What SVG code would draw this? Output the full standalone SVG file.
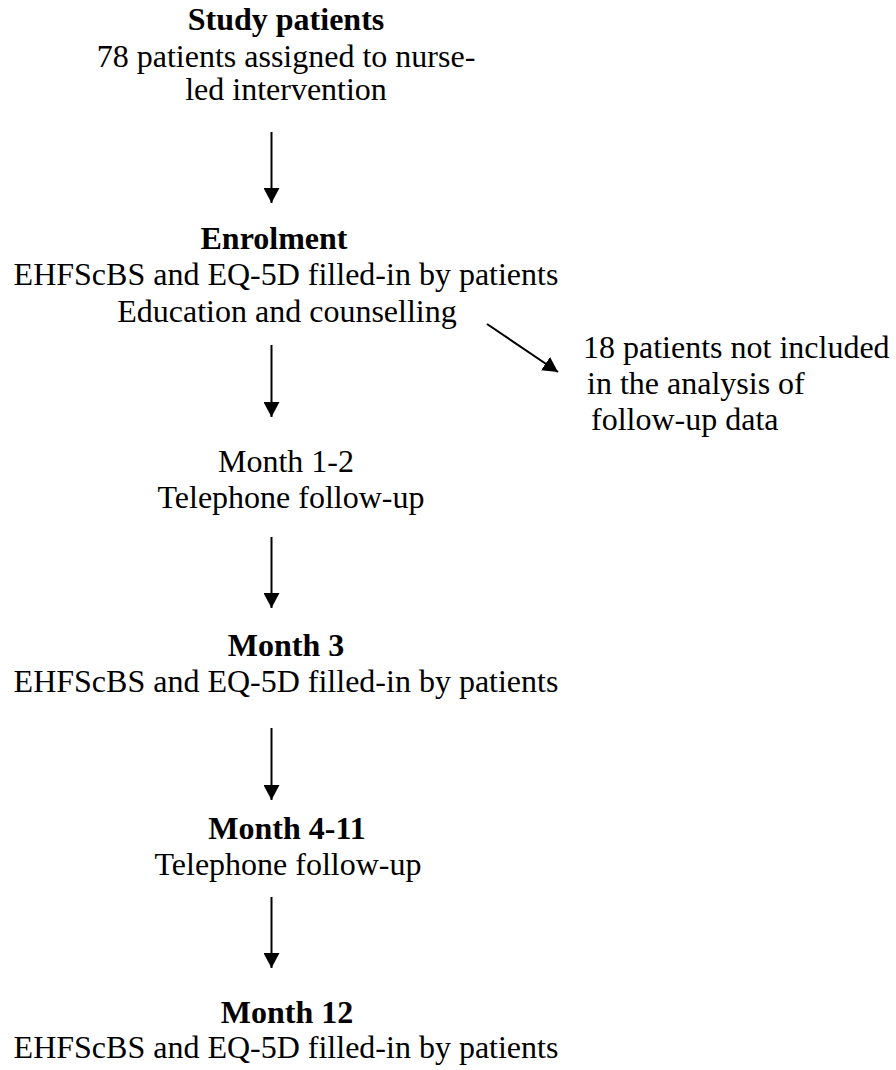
<svg xmlns="http://www.w3.org/2000/svg" width="896" height="1070" viewBox="0 0 896 1070">
<style>
text{font-family:"Liberation Serif","Times New Roman",serif;font-size:32px;fill:#000}
.c{text-anchor:middle}
.b{font-weight:bold}
.conn line{stroke:#000;stroke-width:2;fill:none}
</style>
<defs>
<marker id="ah" markerUnits="userSpaceOnUse" markerWidth="16" markerHeight="16" refX="15" refY="8" orient="auto">
<path d="M0,0 L15,8 L0,16 Z" fill="#000"/>
</marker>
</defs>
<rect width="896" height="1070" fill="#fff"/>
<g id="connectors" class="conn">
<line x1="271.5" y1="132" x2="271.5" y2="203" marker-end="url(#ah)"/>
<line x1="271.5" y1="345" x2="271.5" y2="417" marker-end="url(#ah)"/>
<line x1="487" y1="324" x2="558" y2="372" marker-end="url(#ah)"/>
<line x1="271.5" y1="537" x2="271.5" y2="608" marker-end="url(#ah)"/>
<line x1="271.5" y1="728" x2="271.5" y2="800" marker-end="url(#ah)"/>
<line x1="271.5" y1="897" x2="271.5" y2="968" marker-end="url(#ah)"/>
</g>
<g id="study">
<text class="c b" x="286" y="30">Study patients</text>
<text class="c" x="286" y="67">78 patients assigned to nurse-</text>
<text class="c" x="286" y="100">led intervention</text>
</g>
<g id="enrolment">
<text class="c b" x="274" y="249">Enrolment</text>
<text class="c" x="286" y="285">EHFScBS and EQ-5D filled-in by patients</text>
<text class="c" x="287" y="322">Education and counselling</text>
</g>
<g id="excluded">
<text x="583" y="358">18 patients not included</text>
<text x="587" y="394">in the analysis of</text>
<text x="591" y="430">follow-up data</text>
</g>
<g id="month1-2">
<text class="c" x="286" y="472">Month 1-2</text>
<text class="c" x="291" y="508">Telephone follow-up</text>
</g>
<g id="month3">
<text class="c b" x="286" y="656">Month 3</text>
<text class="c" x="286" y="692">EHFScBS and EQ-5D filled-in by patients</text>
</g>
<g id="month4-11">
<text class="c b" x="287" y="839">Month 4-11</text>
<text class="c" x="288" y="875">Telephone follow-up</text>
</g>
<g id="month12">
<text class="c b" x="287" y="1023">Month 12</text>
<text class="c" x="286" y="1058">EHFScBS and EQ-5D filled-in by patients</text>
</g>
</svg>
